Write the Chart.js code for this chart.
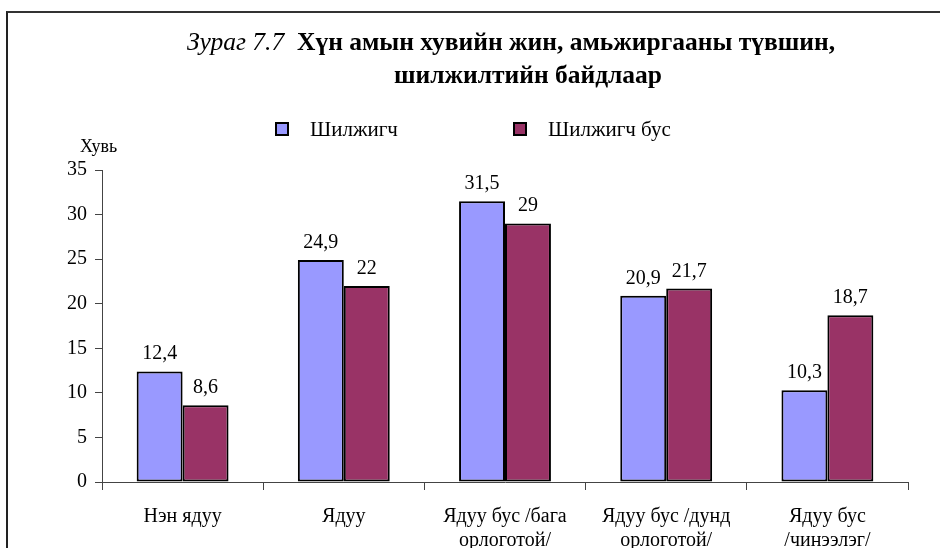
<!DOCTYPE html>
<html>
<head>
<meta charset="utf-8">
<script src="https://cdn.jsdelivr.net/npm/chart.js@4/dist/chart.umd.min.js"></script>
<style>
  html, body { margin: 0; padding: 0; background: #fff; }
  #wrap { position: relative; width: 940px; height: 548px; overflow: hidden; background: #fff; }
  #c { position: absolute; left: 0; top: 0; }
  #frame { position: absolute; left: 6px; top: 11px; width: 960px; height: 600px;
           border-left: 2px solid #222; border-top: 2px solid #333; box-sizing: border-box; }
  .t { position: absolute; white-space: nowrap; text-align: center; transform: translateX(-50%);
       font-family: "Liberation Serif", "Times New Roman", serif; font-size: 25.5px; line-height: 30px; color: #000; font-weight: bold; }
  .t i { font-style: italic; font-weight: normal; }
  .leg { position: absolute; font-family: "Liberation Serif", serif; font-size: 21px; color: #000; top: 117px; white-space: nowrap; }
  .box { position: absolute; width: 10px; height: 10px; border: 2px solid #000; top: 122px; }
  #ylab { position: absolute; left: 80px; top: 136px; font-family: "Liberation Serif", serif; font-size: 18px; }
</style>
</head>
<body>
<div id="wrap">
  <canvas id="c" width="940" height="548"></canvas>
  <div id="frame"></div>
  <div class="t" style="left:511px; top:27px;"><i>Зураг 7.7</i>&nbsp; Хүн амын хувийн жин, амьжиргааны түвшин,</div>
  <div class="t" style="left:528px; top:60px;">шилжилтийн байдлаар</div>
  <div id="leg1box" class="box" style="left:275px;"></div>
  <div class="leg" style="left:310px;" id="leg1"></div>
  <div id="leg2box" class="box" style="left:513px;"></div>
  <div class="leg" style="left:548px;" id="leg2"></div>
  <div id="ylab">Хувь</div>
</div>
<script>
const categories = [
  ["Нэн ядуу"],
  ["Ядуу"],
  ["Ядуу бус /бага", "орлоготой/"],
  ["Ядуу бус /дунд", "орлоготой/"],
  ["Ядуу бус", "/чинээлэг/"]
];
const seriesNames = ["Шилжигч", "Шилжигч бус"];
const migrants = [12.4, 24.9, 31.5, 20.9, 10.3];
const nonMigrants = [8.6, 22, 29, 21.7, 18.7];
const yTicks = [0, 5, 10, 15, 20, 25, 30, 35];

const colors = ["#9999FF", "#993366"];

document.getElementById('leg1').textContent = seriesNames[0];
document.getElementById('leg2').textContent = seriesNames[1];
document.getElementById('leg1box').style.background = colors[0];
document.getElementById('leg2box').style.background = colors[1];

const fmt = v => String(v).replace('.', ',');

const valueLabels = {
  id: 'valueLabels',
  afterDatasetsDraw(chart) {
    const ctx = chart.ctx;
    ctx.save();
    ctx.font = '20px "Liberation Serif", serif';
    ctx.fillStyle = '#000';
    ctx.textAlign = 'center';
    ctx.textBaseline = 'alphabetic';
    chart.data.datasets.forEach((ds, i) => {
      const meta = chart.getDatasetMeta(i);
      meta.data.forEach((bar, j) => {
        ctx.fillText(fmt(ds.data[j]), bar.x, bar.y - 12);
      });
    });
    ctx.restore();
  }
};

new Chart(document.getElementById('c'), {
  type: 'bar',
  data: {
    labels: categories,
    datasets: [
      { label: seriesNames[0], data: migrants, backgroundColor: colors[0], borderColor: '#000', borderWidth: 2, borderSkipped: false },
      { label: seriesNames[1], data: nonMigrants, backgroundColor: colors[1], borderColor: '#000', borderWidth: 2, borderSkipped: false }
    ]
  },
  options: {
    responsive: false,
    animation: false,
    layout: { padding: { left: 0, right: 32, top: 170, bottom: 0 } },
    plugins: { legend: { display: false }, tooltip: { enabled: false }, title: { display: false } },
    datasets: { bar: { barPercentage: 1.0, categoryPercentage: 0.57 } },
    scales: {
      x: {
        offset: true,
        grid: { offset: true, drawOnChartArea: false, drawTicks: true, tickLength: 8, color: '#444' },
        border: { display: true, color: '#444', width: 1 },
        ticks: { color: '#000', font: { family: '"Liberation Serif", serif', size: 20, lineHeight: 1.2 }, padding: 15, maxRotation: 0, autoSkip: false },
        afterFit(scale) { scale.height = 66; }
      },
      y: {
        min: 0, max: 35,
        afterBuildTicks(scale) { scale.ticks = yTicks.map(v => ({ value: v })); },
        grid: { drawOnChartArea: false, drawTicks: true, tickLength: 7, color: '#444' },
        border: { display: true, color: '#444', width: 1 },
        ticks: { color: '#000', font: { family: '"Liberation Serif", serif', size: 20 }, padding: 8 },
        afterFit(scale) { scale.width = 102; }
      }
    }
  },
  plugins: [valueLabels]
});
</script>
</body>
</html>
